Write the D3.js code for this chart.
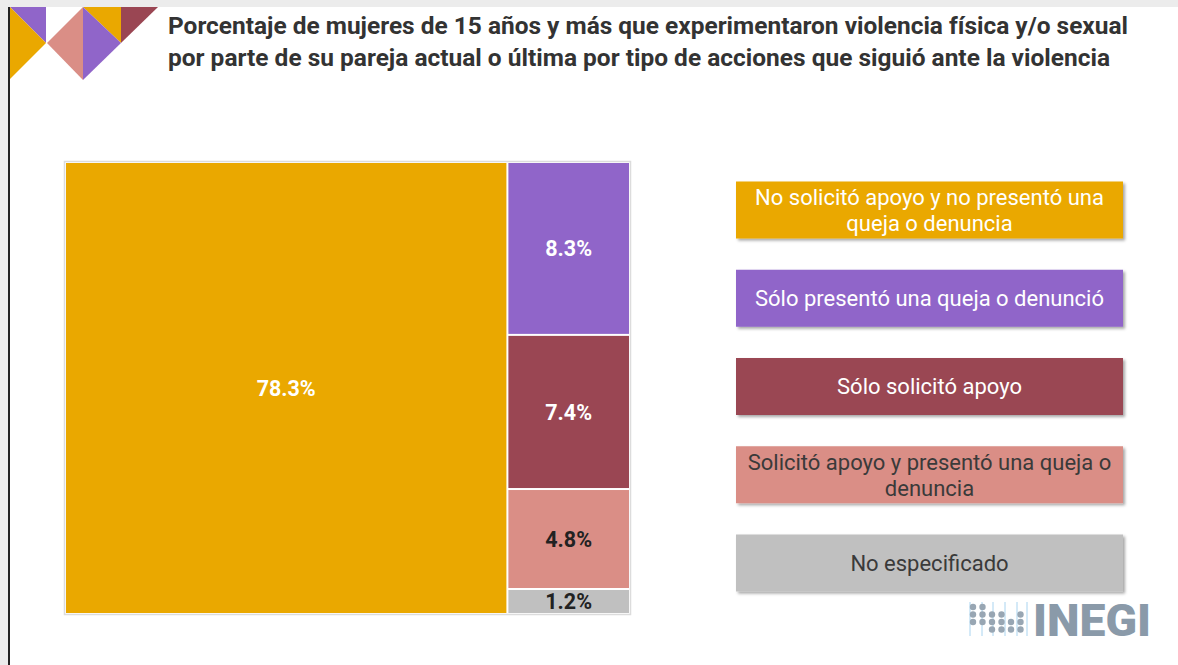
<!DOCTYPE html>
<html>
<head>
<meta charset="utf-8">
<script src="https://cdn.jsdelivr.net/npm/d3@7"></script>
<style>
  body { margin: 0; background: #fff; }
  svg { display: block; font-family: Roboto, "Noto Sans", sans-serif; }
</style>
</head>
<body>
<div id="chart"></div>
<script>
const categories = [
  "No solicitó apoyo y no presentó una queja o denuncia",
  "Sólo presentó una queja o denunció",
  "Sólo solicitó apoyo",
  "Solicitó apoyo y presentó una queja o denuncia",
  "No especificado"
];
const values = [78.3, 8.3, 7.4, 4.8, 1.2];
const legendLines = [
  ["No solicitó apoyo y no presentó una", "queja o denuncia"],
  ["Sólo presentó una queja o denunció"],
  ["Sólo solicitó apoyo"],
  ["Solicitó apoyo y presentó una queja o", "denuncia"],
  ["No especificado"]
];
const titleLines = [
  "Porcentaje de mujeres de 15 años y más que experimentaron violencia física y/o sexual",
  "por parte de su pareja actual o última por tipo de acciones que siguió ante la violencia"
];

const colors = ["#eaa800", "#9065c9", "#9a4653", "#da8e86", "#c0c0c0"];
const labelColors = ["#fff", "#fff", "#fff", "#222", "#222"];
const legendText = ["#fff", "#fff", "#fff", "#3a3a3a", "#3a3a3a"];

const width = 1178, height = 665;

const svg = d3.select("#chart").append("svg")
    .attr("width", width)
    .attr("height", height);

const defs = svg.append("defs");
defs.append("filter").attr("id", "shadow")
    .attr("x", "-5%").attr("y", "-20%").attr("width", "115%").attr("height", "150%")
  .append("feDropShadow")
    .attr("dx", 2).attr("dy", 2).attr("stdDeviation", 1.8)
    .attr("flood-color", "#000").attr("flood-opacity", 0.35);

// frame: gray top strip and left border
svg.append("rect").attr("x", 0).attr("y", 0).attr("width", width).attr("height", 7).attr("fill", "#ececec");
svg.append("rect").attr("x", 0).attr("y", 0).attr("width", 8).attr("height", height).attr("fill", "#ececec");
svg.append("rect").attr("x", 8).attr("y", 7).attr("width", 2).attr("height", height).attr("fill", "#222");

// corner decoration
const deco = [
  { c: colors[1], p: [[10, 7], [46, 7], [46, 43]] },
  { c: colors[0], p: [[10, 7], [46, 43], [10, 79]] },
  { c: colors[3], p: [[47, 43], [83, 7], [83, 80]] },
  { c: colors[0], p: [[83, 7], [121, 7], [121, 43]] },
  { c: colors[1], p: [[83, 7], [121, 43], [83, 80]] },
  { c: colors[2], p: [[121, 7], [158, 7], [121, 43]] }
];
svg.append("g").selectAll("polygon").data(deco).join("polygon")
    .attr("points", d => d.p.join(" "))
    .attr("fill", d => d.c);

// title
svg.append("g").selectAll("text").data(titleLines).join("text")
    .attr("x", 168)
    .attr("y", (d, i) => 34 + i * 32)
    .attr("font-size", 23)
    .attr("font-weight", 700)
    .attr("fill", "#333")
    .attr("textLength", (d, i) => i === 0 ? 960 : 942)
    .attr("lengthAdjust", "spacingAndGlyphs")
    .text(d => d);

// treemap
const tm = { x0: 66, y0: 163, x1: 629, y1: 613 };
const items = categories.map((c, i) => ({ name: c, value: values[i], i }));
const root = d3.hierarchy({ children: [items[0], { children: items.slice(1) }] })
    .sum(d => d.value || 0);

d3.treemap()
    .tile(d3.treemapSliceDice)
    .size([tm.x1 - tm.x0, tm.y1 - tm.y0])
    .paddingInner(2)
    .round(false)(root);

svg.append("rect")
    .attr("x", tm.x0 - 1.5).attr("y", tm.y0 - 1.5)
    .attr("width", tm.x1 - tm.x0 + 3).attr("height", tm.y1 - tm.y0 + 3)
    .attr("fill", "none").attr("stroke", "#dcdcdc").attr("stroke-width", 1.5);

const cells = svg.append("g")
    .attr("transform", `translate(${tm.x0},${tm.y0})`)
  .selectAll("g").data(root.leaves()).join("g");

cells.append("rect")
    .attr("x", d => d.x0).attr("y", d => d.y0)
    .attr("width", d => d.x1 - d.x0).attr("height", d => d.y1 - d.y0)
    .attr("fill", d => colors[d.data.i]);

cells.append("text")
    .attr("x", d => (d.x0 + d.x1) / 2)
    .attr("y", d => (d.y0 + d.y1) / 2)
    .attr("dy", "0.36em")
    .attr("text-anchor", "middle")
    .attr("font-size", 21.5)
    .attr("font-weight", 700)
    .attr("fill", d => labelColors[d.data.i])
    .text(d => d3.format(".1f")(d.data.value) + "%");

// legend
const legendY = d3.scalePoint().domain(d3.range(categories.length)).range([210, 563]);
const lx = 736, lw = 387, lh = 57;

const lg = svg.append("g").selectAll("g").data(categories).join("g")
    .attr("transform", (d, i) => `translate(${lx},${legendY(i) - lh / 2})`);

lg.append("rect")
    .attr("width", lw).attr("height", lh)
    .attr("fill", (d, i) => colors[i])
    .attr("filter", "url(#shadow)");

lg.each(function(d, i) {
  const lines = legendLines[i];
  const t = d3.select(this).append("text")
      .attr("text-anchor", "middle")
      .attr("font-size", 22)
      .attr("fill", legendText[i]);
  lines.forEach((l, j) => {
    t.append("tspan")
        .attr("x", lw / 2)
        .attr("y", lh / 2 + (j - (lines.length - 1) / 2) * 26)
        .attr("dy", "0.36em")
        .text(l);
  });
});

// INEGI logo
const logo = svg.append("g").attr("transform", "translate(968,602)");
const dotCols = [[0, 1, 2], [0, 1, 2], [1, 2, 3], [1, 2, 3], [2, 3], [1, 2, 3]];
const lineX = [0, 12, 23, 35, 47, 57];
lineX.forEach(x => {
  logo.append("line").attr("x1", x + 2).attr("x2", x + 2).attr("y1", 0).attr("y2", 34)
      .attr("stroke", "#a9d4f0").attr("stroke-width", 1);
});
dotCols.forEach((rows, ci) => {
  rows.forEach(r => {
    logo.append("circle")
        .attr("cx", 5 + ci * 9.5).attr("cy", 5 + r * 7.5).attr("r", 3.2)
        .attr("fill", "#98a6b3");
  });
});
logo.append("text")
    .attr("x", 65).attr("y", 34)
    .attr("font-size", 45)
    .attr("font-weight", 900)
    .attr("fill", "#8a9aa9")
    .attr("textLength", 118)
    .attr("lengthAdjust", "spacingAndGlyphs")
    .text("INEGI");
</script>
</body>
</html>
